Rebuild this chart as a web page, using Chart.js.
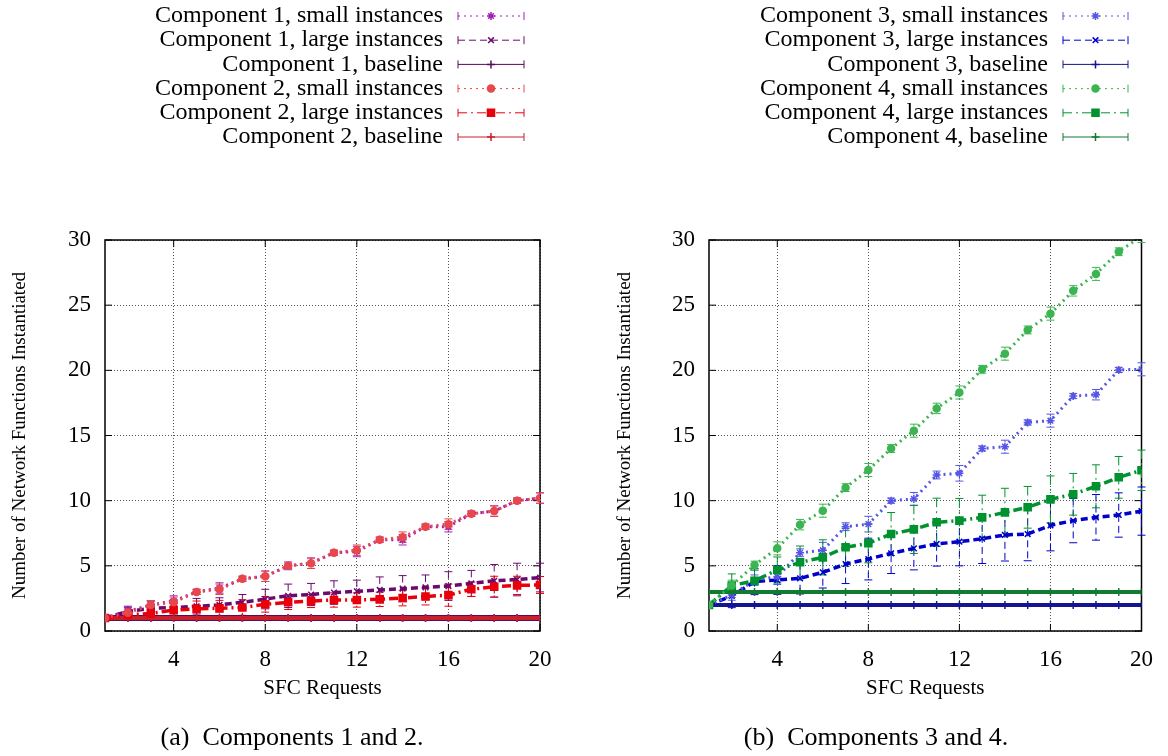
<!DOCTYPE html>
<html>
<head>
<meta charset="utf-8">
<script src="https://cdn.jsdelivr.net/npm/chart.js@4.4.1/dist/chart.umd.min.js"></script>
<style>
  body { margin: 0; background: #fff; width: 1168px; height: 756px; overflow: hidden; position: relative; }
  canvas { position: absolute; top: 0; }
  #chart-left { left: 0; }
  #chart-right { left: 584px; }
</style>
</head>
<body>
<canvas id="chart-left" width="584" height="756"></canvas>
<canvas id="chart-right" width="584" height="756"></canvas>
<script>
// x values (SFC requests) and axis ticks
const sfcRequests = [1, 2, 3, 4, 5, 6, 7, 8, 9, 10, 11, 12, 13, 14, 15, 16, 17, 18, 19, 20];
const xTicks = [4, 8, 12, 16, 20];
const yTicks = [0, 5, 10, 15, 20, 25, 30];

// Component 1
const comp1Small    = [1.0, 1.5, 2.0, 2.3, 3.0, 3.3, 4.0, 4.2, 5.0, 5.2, 6.0, 6.1, 7.0, 7.0, 8.0, 8.0, 9.0, 9.2, 10.0, 10.2];
const comp1SmallErr = [0, 0.3, 0.3, 0.4, 0.2, 0.4, 0.2, 0.4, 0.3, 0.4, 0.2, 0.4, 0.2, 0.4, 0.2, 0.4, 0.2, 0.4, 0.2, 0.4];
const comp1Large    = [1.0, 1.5, 1.75, 1.8, 1.9, 2.0, 2.2, 2.45, 2.7, 2.8, 2.95, 3.05, 3.15, 3.25, 3.35, 3.45, 3.65, 3.85, 3.95, 4.1];
const comp1LargeErr = [0, 0.4, 0.55, 0.6, 0.6, 0.55, 0.6, 0.75, 0.9, 0.85, 0.9, 0.85, 1.0, 1.0, 0.95, 1.1, 1.0, 1.25, 1.25, 1.1];
const comp1Base     = [1, 1, 1, 1, 1, 1, 1, 1, 1, 1, 1, 1, 1, 1, 1, 1, 1, 1, 1, 1];

// Component 2
const comp2Small    = [1.0, 1.4, 2.0, 2.2, 3.0, 3.2, 4.0, 4.2, 5.0, 5.2, 6.0, 6.2, 7.0, 7.2, 8.0, 8.2, 9.0, 9.2, 10.0, 10.2];
const comp2SmallErr = [0, 0.3, 0.3, 0.4, 0.2, 0.4, 0.2, 0.4, 0.2, 0.4, 0.2, 0.4, 0.2, 0.4, 0.2, 0.4, 0.2, 0.4, 0.2, 0.4];
const comp2Large    = [1.0, 1.23, 1.35, 1.6, 1.7, 1.75, 1.8, 2.05, 2.2, 2.3, 2.38, 2.38, 2.43, 2.53, 2.65, 2.75, 3.2, 3.4, 3.5, 3.53];
const comp2LargeErr = [0, 0.3, 0.4, 0.5, 0.6, 0.6, 0.6, 0.6, 0.55, 0.5, 0.55, 0.55, 0.55, 0.6, 0.65, 0.85, 0.55, 0.8, 0.7, 0.65];
const comp2Base     = [1, 1, 1, 1, 1, 1, 1, 1, 1, 1, 1, 1, 1, 1, 1, 1, 1, 1, 1, 1];

// Component 3
const comp3Small    = [2.0, 2.76, 3.9, 4.17, 6.0, 6.2, 8.0, 8.2, 10.0, 10.13, 11.97, 12.1, 14.0, 14.14, 16.0, 16.14, 18.03, 18.13, 20.03, 20.08];
const comp3SmallErr = [0, 0.4, 0.4, 0.6, 0.3, 0.6, 0.3, 0.6, 0.2, 0.5, 0.3, 0.6, 0.2, 0.5, 0.2, 0.5, 0.2, 0.4, 0.2, 0.5];
const comp3Large    = [2.0, 2.69, 3.79, 3.91, 4.04, 4.5, 5.14, 5.52, 5.96, 6.34, 6.68, 6.85, 7.08, 7.37, 7.44, 8.1, 8.47, 8.72, 8.9, 9.2];
const comp3LargeErr = [0, 0.9, 1.0, 1.1, 1.2, 1.2, 1.5, 1.6, 1.55, 1.65, 1.7, 1.85, 1.9, 2.0, 2.05, 1.95, 1.7, 1.75, 1.7, 1.85];
const comp3Base     = [2, 2, 2, 2, 2, 2, 2, 2, 2, 2, 2, 2, 2, 2, 2, 2, 2, 2, 2, 2];

// Component 4
const comp4Small    = [2.0, 3.5, 5.06, 6.34, 8.16, 9.23, 11.0, 12.35, 14.0, 15.37, 17.08, 18.3, 20.08, 21.28, 23.1, 24.35, 26.1, 27.4, 29.1, 30.3];
const comp4SmallErr = [0, 0.4, 0.3, 0.5, 0.4, 0.5, 0.3, 0.5, 0.3, 0.5, 0.4, 0.5, 0.3, 0.5, 0.3, 0.5, 0.4, 0.5, 0.3, 0.5];
const comp4Large    = [2.0, 3.48, 3.86, 4.68, 5.27, 5.65, 6.42, 6.73, 7.44, 7.8, 8.34, 8.47, 8.72, 9.1, 9.49, 10.1, 10.49, 11.1, 11.79, 12.33];
const comp4LargeErr = [0, 0.9, 0.8, 1.0, 1.25, 1.35, 1.45, 1.5, 1.65, 1.85, 1.85, 1.7, 1.7, 1.85, 1.6, 1.8, 1.6, 1.65, 1.6, 1.55];
const comp4Base     = [3, 3, 3, 3, 3, 3, 3, 3, 3, 3, 3, 3, 3, 3, 3, 3, 3, 3, 3, 3];

const SERIF = "'Liberation Serif', 'DejaVu Serif', serif";
const DOTTED = [2, 4], DASHED = [7, 4], DASHDOT = [9, 4, 2, 4];

// line styles (legend order)
const leftSeries = [
  { label: 'Component 1, small instances', y: comp1Small, err: comp1SmallErr, color: '#a21fbe', dash: DOTTED,  width: 3,   point: 'star',     r: 4,   order: 1 },
  { label: 'Component 1, large instances', y: comp1Large, err: comp1LargeErr, color: '#6a0a6e', dash: DASHED,  width: 3.5, point: 'crossRot', r: 4,   order: 1 },
  { label: 'Component 1, baseline',        y: comp1Base,  err: null,          color: '#5a0a5e', dash: [],      width: 6,   point: 'cross',    r: 4,   order: 1 },
  { label: 'Component 2, small instances', y: comp2Small, err: comp2SmallErr, color: '#e8474c', dash: DOTTED,  width: 3,   point: 'circle',   r: 3.5, order: 0 },
  { label: 'Component 2, large instances', y: comp2Large, err: comp2LargeErr, color: '#e8000b', dash: DASHDOT, width: 3.5, point: 'rect',     r: 5,   order: 0 },
  { label: 'Component 2, baseline',        y: comp2Base,  err: null,          color: '#c8202c', dash: [],      width: 4,   point: 'cross',    r: 4,   order: 0 }
];
const rightSeries = [
  { label: 'Component 3, small instances', y: comp3Small, err: comp3SmallErr, color: '#5656e6', dash: DOTTED,  width: 3,   point: 'star',     r: 4,   order: 1 },
  { label: 'Component 3, large instances', y: comp3Large, err: comp3LargeErr, color: '#0000cc', dash: DASHED,  width: 3.5, point: 'crossRot', r: 4,   order: 1 },
  { label: 'Component 3, baseline',        y: comp3Base,  err: null,          color: '#151590', dash: [],      width: 4,   point: 'cross',    r: 4,   order: 1 },
  { label: 'Component 4, small instances', y: comp4Small, err: comp4SmallErr, color: '#3cb451', dash: DOTTED,  width: 3,   point: 'circle',   r: 3.5, order: 0 },
  { label: 'Component 4, large instances', y: comp4Large, err: comp4LargeErr, color: '#00922f', dash: DASHDOT, width: 3.5, point: 'rect',     r: 5,   order: 0 },
  { label: 'Component 4, baseline',        y: comp4Base,  err: null,          color: '#137a33', dash: [],      width: 4,   point: 'cross',    r: 4,   order: 0 }
];

// error bars + frame + gnuplot style key + caption
const gnuplotLook = {
  id: 'gnuplotLook',
  beforeDatasetsDraw(chart) {
    const { ctx, chartArea: a, scales: { x, y } } = chart;
    // frame and inward ticks
    ctx.save();
    ctx.strokeStyle = '#000';
    ctx.lineWidth = 1.5;
    ctx.strokeRect(a.left, a.top, a.right - a.left, a.bottom - a.top);
    ctx.lineWidth = 1;
    yTicks.forEach(v => {
      const py = y.getPixelForValue(v);
      ctx.beginPath();
      ctx.moveTo(a.left, py); ctx.lineTo(a.left + 7, py);
      ctx.moveTo(a.right, py); ctx.lineTo(a.right - 7, py);
      ctx.stroke();
    });
    xTicks.forEach(v => {
      const px = x.getPixelForValue(v);
      ctx.beginPath();
      ctx.moveTo(px, a.bottom); ctx.lineTo(px, a.bottom - 7);
      ctx.moveTo(px, a.top); ctx.lineTo(px, a.top + 7);
      ctx.stroke();
    });
    // error bars
    ctx.beginPath();
    ctx.rect(a.left - 6, a.top, a.right - a.left + 12, a.bottom - a.top);
    ctx.clip();
    chart.data.datasets.forEach((ds, i) => {
      if (!ds.errors) return;
      const meta = chart.getDatasetMeta(i);
      ctx.strokeStyle = ds.borderColor;
      ctx.lineWidth = 1;
      meta.data.forEach((pt, j) => {
        const e = ds.errors[j];
        if (!e) return;
        const v = ds.data[j].y;
        const yt = y.getPixelForValue(v + e);
        const yb = y.getPixelForValue(v - e);
        ctx.setLineDash(ds.borderDash);
        ctx.beginPath();
        ctx.moveTo(pt.x, yt); ctx.lineTo(pt.x, yb);
        ctx.stroke();
        ctx.setLineDash([]);
        ctx.beginPath();
        ctx.moveTo(pt.x - 4, yt); ctx.lineTo(pt.x + 4, yt);
        ctx.moveTo(pt.x - 4, yb); ctx.lineTo(pt.x + 4, yb);
        ctx.stroke();
      });
    });
    ctx.restore();
  },
  afterDraw(chart, args, opts) {
    const ctx = chart.ctx;
    ctx.save();
    // key
    ctx.font = '24px ' + SERIF;
    ctx.textAlign = 'right';
    ctx.textBaseline = 'middle';
    opts.series.forEach((s, i) => {
      const cy = opts.keyTop + i * opts.keyStep;
      ctx.fillStyle = '#000';
      ctx.fillText(s.label, opts.textRight, cy);
      ctx.strokeStyle = s.color;
      ctx.fillStyle = s.color;
      ctx.lineWidth = 1;
      ctx.setLineDash(s.dash);
      ctx.beginPath();
      ctx.moveTo(opts.lineLeft, cy); ctx.lineTo(opts.lineRight, cy);
      ctx.stroke();
      ctx.setLineDash([]);
      ctx.beginPath();
      ctx.moveTo(opts.lineLeft, cy - 4); ctx.lineTo(opts.lineLeft, cy + 4);
      ctx.moveTo(opts.lineRight, cy - 4); ctx.lineTo(opts.lineRight, cy + 4);
      ctx.stroke();
      ctx.lineWidth = 1.5;
      Chart.helpers.drawPoint(ctx, { pointStyle: s.point, radius: s.r, borderWidth: 1.5 }, (opts.lineLeft + opts.lineRight) / 2, cy);
    });
    // caption
    ctx.fillStyle = '#000';
    ctx.font = '26px ' + SERIF;
    ctx.textAlign = 'center';
    ctx.fillText(opts.caption, opts.captionX, 738);
    ctx.restore();
  }
};

function makeChart(id, series, cfg) {
  return new Chart(document.getElementById(id), {
    type: 'line',
    data: {
      datasets: series.map(s => ({
        label: s.label,
        data: sfcRequests.map((x, i) => ({ x: x, y: s.y[i] })),
        errors: s.err,
        borderColor: s.color,
        backgroundColor: s.color,
        borderWidth: s.width,
        borderDash: s.dash,
        pointStyle: s.point,
        pointRadius: s.r,
        pointBorderWidth: 1.5,
        pointBackgroundColor: s.color,
        tension: 0,
        order: s.order
      }))
    },
    plugins: [gnuplotLook],
    options: {
      responsive: false,
      animation: false,
      devicePixelRatio: 1,
      layout: { padding: { top: 240, left: 0, right: cfg.padRight, bottom: 51 } },
      plugins: {
        legend: { display: false },
        tooltip: { enabled: false },
        gnuplotLook: {
          series: series, caption: cfg.caption, captionX: 292,
          textRight: cfg.textRight, lineLeft: cfg.lineLeft, lineRight: cfg.lineRight,
          keyTop: 16, keyStep: 24.2
        }
      },
      scales: {
        x: {
          type: 'linear', min: 1, max: 20,
          afterBuildTicks: s => { s.ticks = xTicks.map(v => ({ value: v })); },
          afterFit: s => { s.height = 74; },
          ticks: { font: { family: SERIF, size: 23 }, color: '#000', padding: 15, maxRotation: 0 },
          grid: { color: '#555', lineWidth: 1, drawTicks: false },
          border: { display: false, dash: [1, 2] },
          title: { display: true, text: 'SFC Requests', color: '#000', font: { family: SERIF, size: 21 }, padding: { top: 0, bottom: 4 } }
        },
        y: {
          min: 0, max: 30,
          afterBuildTicks: s => { s.ticks = yTicks.map(v => ({ value: v })); },
          afterFit: s => { s.width = cfg.yWidth; },
          ticks: { font: { family: SERIF, size: 23 }, color: '#000', padding: 14 },
          grid: { color: '#555', lineWidth: 1, drawTicks: false },
          border: { display: false, dash: [1, 2] },
          title: { display: true, text: 'Number of Network Functions Instantiated', color: '#000', font: { family: SERIF, size: 19 }, padding: { top: cfg.titlePad, bottom: 0 } }
        }
      }
    }
  });
}

makeChart('chart-left', leftSeries, {
  padRight: 44, yWidth: 105, titlePad: 9, caption: '(a)  Components 1 and 2.',
  textRight: 443, lineLeft: 458, lineRight: 524
});
makeChart('chart-right', rightSeries, {
  padRight: 25, yWidth: 125, titlePad: 30, caption: '(b)  Components 3 and 4.',
  textRight: 464, lineLeft: 479, lineRight: 544
});
</script>
</body>
</html>
